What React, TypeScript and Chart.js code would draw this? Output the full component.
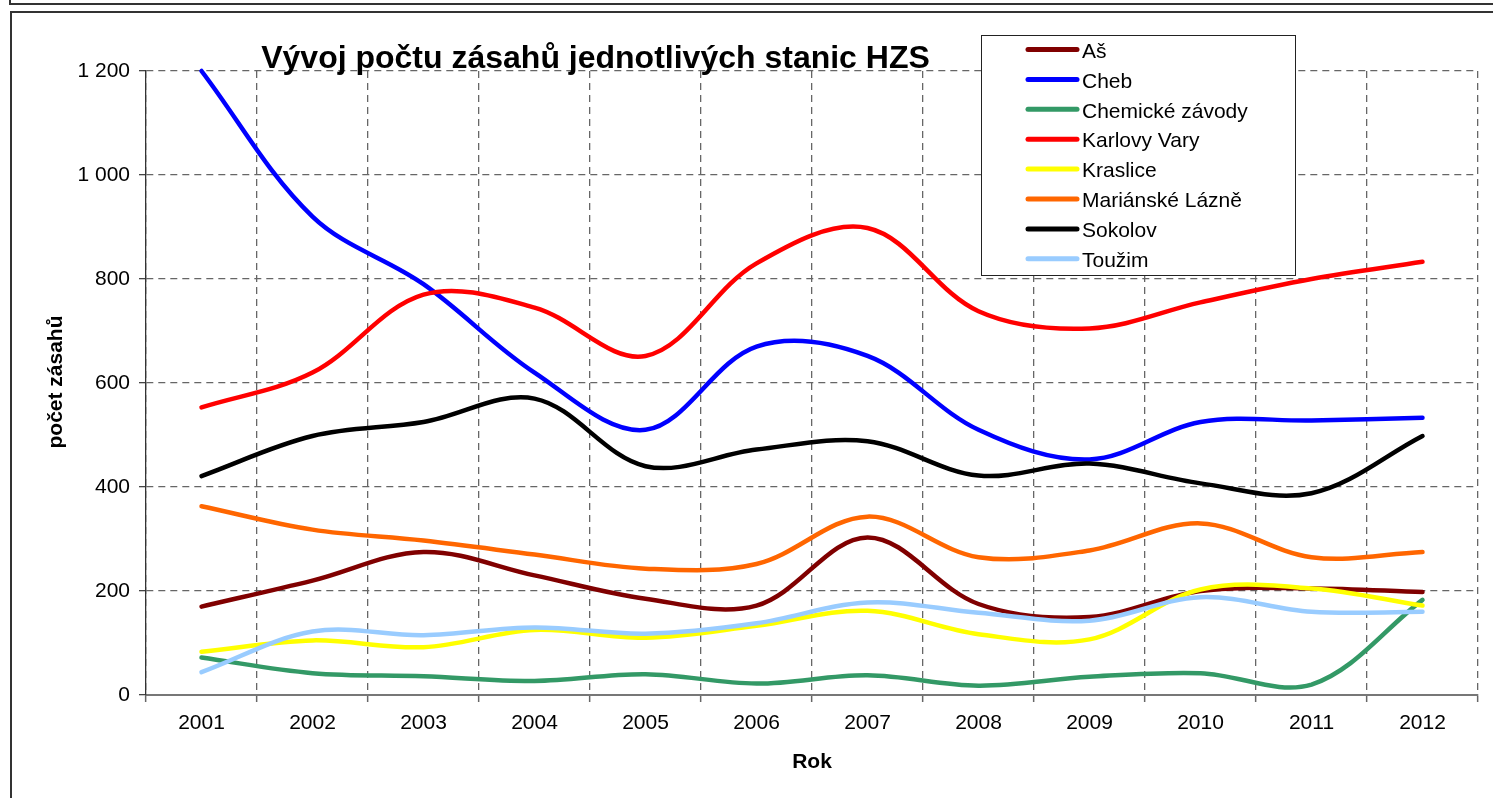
import React, { useEffect, useRef } from "react";
import { Chart, registerables } from "chart.js";

Chart.register(...registerables);

const years = ["2001", "2002", "2003", "2004", "2005", "2006", "2007", "2008", "2009", "2010", "2011", "2012"];

const asValues = [170, 220, 275, 230, 185, 172, 303, 175, 150, 200, 205, 198];
const chebValues = [1200, 920, 790, 620, 510, 670, 652, 510, 453, 525, 528, 533];
const chemickeValues = [72, 42, 36, 27, 40, 22, 38, 18, 35, 42, 20, 183];
const karlovyVaryValues = [553, 620, 770, 745, 652, 830, 898, 738, 705, 755, 800, 833];
const krasliceValues = [83, 105, 92, 125, 110, 133, 162, 117, 107, 203, 205, 172];
const marianskeValues = [363, 318, 297, 270, 243, 252, 343, 265, 278, 330, 265, 275];
const sokolovValues = [421, 498, 525, 570, 440, 472, 488, 422, 445, 407, 388, 498];
const touzimValues = [44, 122, 115, 130, 118, 138, 178, 158, 143, 188, 160, 160];

const seriesNames = ["Aš", "Cheb", "Chemické závody", "Karlovy Vary", "Kraslice", "Mariánské Lázně", "Sokolov", "Toužim"];
const seriesValues = [asValues, chebValues, chemickeValues, karlovyVaryValues, krasliceValues, marianskeValues, sokolovValues, touzimValues];
const seriesColors = ["#800000", "#0000FF", "#339966", "#FF0000", "#FFFF00", "#FF6600", "#000000", "#99CCFF"];

const chartTitle = "Vývoj počtu zásahů jednotlivých stanic HZS";
const yAxisTitle = "počet zásahů";
const xAxisTitle = "Rok";
const yMin = 0;
const yMax = 1200;
const yStep = 200;

const FONT = "'Liberation Sans', Arial, Helvetica, sans-serif";

const framePlugin = {
  id: "frame",
  beforeDraw(chart: any) {
    const ctx = chart.ctx;
    ctx.save();
    ctx.fillStyle = "#ffffff";
    ctx.fillRect(0, 0, chart.width, chart.height);
    ctx.strokeStyle = "#333333";
    ctx.lineWidth = 2;
    ctx.beginPath();
    ctx.moveTo(10, 0);
    ctx.lineTo(10, 4);
    ctx.lineTo(chart.width + 2, 4);
    ctx.moveTo(chart.width + 2, 12);
    ctx.lineTo(11, 12);
    ctx.lineTo(11, chart.height + 2);
    ctx.stroke();
    ctx.restore();
  },
};

const textPlugin = {
  id: "texts",
  afterDraw(chart: any) {
    const ctx = chart.ctx;
    ctx.save();
    // Title
    ctx.font = `bold 32px ${FONT}`;
    ctx.fillStyle = "#000000";
    ctx.textAlign = "center";
    ctx.textBaseline = "alphabetic";
    ctx.fillText(chartTitle, 595.5, 68);
    ctx.restore();

    // Y axis title
    ctx.save();
    ctx.font = `bold 21px ${FONT}`;
    ctx.fillStyle = "#000000";
    ctx.translate(56, 382);
    ctx.rotate(-Math.PI / 2);
    ctx.textAlign = "center";
    ctx.textBaseline = "middle";
    ctx.fillText(yAxisTitle, 0, 0);
    ctx.restore();

    // X axis title
    ctx.save();
    ctx.font = `bold 21px ${FONT}`;
    ctx.fillStyle = "#000000";
    ctx.textAlign = "center";
    ctx.textBaseline = "middle";
    ctx.fillText(xAxisTitle, 812, 762);
    ctx.restore();

    // Legend
    ctx.save();
    const lx = 981.5, ly = 35.5, lw = 314, lh = 240;
    ctx.fillStyle = "#ffffff";
    ctx.fillRect(lx, ly, lw, lh);
    ctx.strokeStyle = "#222222";
    ctx.lineWidth = 1;
    ctx.strokeRect(lx, ly, lw, lh);
    ctx.font = `21px ${FONT}`;
    ctx.textAlign = "left";
    ctx.textBaseline = "middle";
    seriesNames.forEach((name, i) => {
      const cy = 51 + i * 29.9;
      ctx.strokeStyle = seriesColors[i];
      ctx.lineWidth = 5;
      ctx.lineCap = "round";
      ctx.beginPath();
      ctx.moveTo(1028, cy - 1.5);
      ctx.lineTo(1077, cy - 1.5);
      ctx.stroke();
      ctx.fillStyle = "#000000";
      ctx.fillText(name, 1082, cy + 1);
    });
    ctx.restore();
  },
};

export default function App() {
  const canvasRef = useRef<HTMLCanvasElement | null>(null);

  useEffect(() => {
    if (!canvasRef.current) return;
    const n = seriesNames.length;
    const chart = new Chart(canvasRef.current, {
      type: "line",
      data: {
        labels: years,
        datasets: seriesNames.map((name, i) => ({
          label: name,
          data: seriesValues[i],
          borderColor: seriesColors[i],
          backgroundColor: seriesColors[i],
          borderWidth: 4.5,
          pointRadius: 0,
          pointHoverRadius: 0,
          tension: 0.35,
          fill: false,
          clip: false,
          order: n - i,
          borderCapStyle: "round",
          borderJoinStyle: "round",
        })),
      },
      options: {
        responsive: false,
        maintainAspectRatio: false,
        devicePixelRatio: 1,
        animation: false,
        events: [],
        layout: { padding: { left: 0, right: 15, top: 71, bottom: 0 } },
        plugins: {
          legend: { display: false },
          title: { display: false },
          tooltip: { enabled: false },
        },
        scales: {
          x: {
            type: "category",
            offset: true,
            grid: {
              offset: true,
              color: "#666666",
              lineWidth: 1.3,
              tickLength: 7,
              tickColor: "#666666",
              tickWidth: 1.5,
              tickBorderDash: [],
            },
            border: { display: true, color: "#777777", width: 2, dash: [7, 5] },
            ticks: {
              color: "#000000",
              font: { family: FONT, size: 21 },
              padding: 9,
              maxRotation: 0,
              autoSkip: false,
            },
            afterFit: (axis: any) => {
              axis.height = 103;
            },
          },
          y: {
            min: yMin,
            max: yMax,
            grid: {
              color: "#666666",
              lineWidth: 1.3,
              tickLength: 7,
              tickColor: "#444444",
              tickWidth: 1.3,
              tickBorderDash: [],
            },
            border: { display: true, color: "#333333", width: 1.3, dash: [7, 5] },
            ticks: {
              stepSize: yStep,
              color: "#000000",
              font: { family: FONT, size: 21 },
              padding: 9,
              callback: (v: any) => {
                const s = String(Math.round(Number(v)));
                return s.replace(/\B(?=(\d{3})+(?!\d))/g, " ");
              },
            },
            afterFit: (axis: any) => {
              axis.width = 146;
            },
          },
        },
      },
      plugins: [framePlugin, textPlugin],
    } as any);
    return () => chart.destroy();
  }, []);

  return (
    <div style={{ position: "absolute", left: 0, top: 0, width: 1493, height: 798 }}>
      <canvas ref={canvasRef} width={1493} height={798} style={{ width: 1493, height: 798, display: "block" }} />
    </div>
  );
}
